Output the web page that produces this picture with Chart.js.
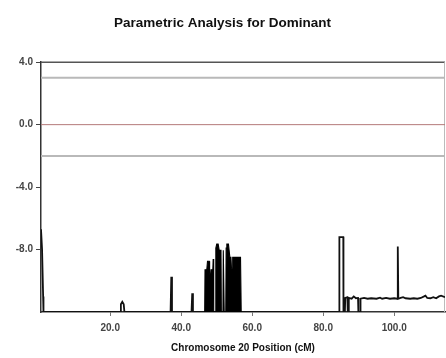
<!DOCTYPE html>
<html>
<head>
<meta charset="utf-8">
<script src="https://cdn.jsdelivr.net/npm/chart.js@4"></script>
<style>
  html, body { margin: 0; padding: 0; background: #fff; }
  #wrap { width: 446px; height: 358px; }
</style>
</head>
<body>
<div id="wrap"><canvas id="lod-chart"></canvas></div>
<script>
const chartTitle = 'Parametric Analysis for Dominant';
const xAxisTitle = 'Chromosome 20 Position (cM)';
const xTickValues = [20, 40, 60, 80, 100];
const yTickValues = [-8, -4, 0, 4];
const xRange = [0.5, 114.3];
const yRange = [-12, 4];
const upperLine = 3;
const lowerLine = -2;
const zeroLine = 0;

// main LOD trace
const posX = [
  0.5, 0.8, 1.1, 1.2,
  22.8, 23.0, 23.4, 23.8, 24.0,
  37.0, 37.2, 37.4,
  42.9, 43.1, 43.3,
  46.6, 57.0,
  84.5, 84.55, 85.65, 85.7,
  86.1, 86.2, 86.8, 86.9, 87.1, 87.2, 88.0, 88.6, 89.2, 89.8, 89.9, 90.4, 90.5,
  91.5, 92.5, 93.5, 95.0, 96.0, 96.6, 97.7, 98.8, 100.0, 100.85, 101.0, 101.15, 101.8, 102.5,
  103.2, 104.5, 105.5, 106.5, 107.5, 108.4, 108.8, 109.3, 110.2, 111.0, 111.8, 112.6, 113.2, 114.3
];
const lodY = [
  -6.7, -8.0, -11.0, -12,
  -12, -11.5, -11.35, -11.5, -12,
  -12, -9.75, -12,
  -12, -10.8, -12,
  -12, -12,
  -12, -7.2, -7.2, -12,
  -12, -11.1, -11.05, -12, -12, -11.1, -11.15, -11.0, -11.12, -11.1, -12, -12, -11.15,
  -11.1, -11.15, -11.12, -11.15, -11.08, -11.15, -11.1, -11.15, -11.12, -11.15, -7.8, -11.15, -11.1, -11.05,
  -11.12, -11.15, -11.12, -11.15, -11.1, -11.0, -10.95, -11.1, -11.12, -11.05, -11.12, -11.0, -10.95, -11.05
];

// dense block around 47-57 cM (drawn solid)
const clusterX = [
  46.6, 46.7, 47.2, 47.4, 47.9, 48.0, 48.3, 48.4, 48.9, 49.0, 49.15, 49.6, 49.75, 50.0, 50.4,
  50.7, 51.2, 51.3, 51.75, 51.85, 52.0, 52.1, 52.55, 52.65, 52.85, 53.3, 53.7, 54.0, 54.15, 54.35,
  54.5, 56.7, 56.9
];
const clusterY = [
  -12, -9.3, -9.3, -8.75, -8.75, -9.6, -9.6, -9.3, -9.3, -8.6, -12, -12, -7.9, -7.65, -7.65,
  -8.05, -8.05, -12, -12, -8.05, -8.05, -12, -12, -7.9, -7.65, -7.65, -8.5, -8.5, -9.2, -9.2,
  -8.5, -8.5, -12
];

const toPoints = (xs, ys) => xs.map((x, i) => ({ x: x, y: ys[i] }));
const flat = v => [{ x: xRange[0], y: v }, { x: xRange[1], y: v }];

const frame = {
  id: 'frame',
  beforeDatasetsDraw(chart) {
    const { ctx, chartArea: a } = chart;
    ctx.save();
    ctx.strokeStyle = '#555';
    ctx.lineWidth = 1.5;
    ctx.beginPath();
    ctx.moveTo(a.left, a.top);
    ctx.lineTo(a.right, a.top);
    ctx.stroke();
    ctx.strokeStyle = '#bbb';
    ctx.lineWidth = 1;
    ctx.beginPath();
    ctx.moveTo(a.right - 0.5, a.top);
    ctx.lineTo(a.right - 0.5, a.bottom);
    ctx.stroke();
    ctx.restore();
  }
};

const tickFont = { family: 'Liberation Sans, Arial', size: 10, weight: 'bold' };

new Chart(document.getElementById('lod-chart'), {
  type: 'line',
  data: {
    datasets: [
      { data: flat(upperLine), borderColor: '#b9b9b9', borderWidth: 2, pointRadius: 0 },
      { data: flat(lowerLine), borderColor: '#b9b9b9', borderWidth: 2, pointRadius: 0 },
      { data: flat(zeroLine), borderColor: '#b47a7a', borderWidth: 1, pointRadius: 0 },
      {
        data: toPoints(clusterX, clusterY),
        borderColor: '#000', backgroundColor: '#000', borderWidth: 1.1,
        pointRadius: 0, fill: 'start'
      },
      {
        data: toPoints(posX, lodY),
        borderColor: '#111', borderWidth: 1.8, pointRadius: 0, fill: false
      }
    ]
  },
  options: {
    animation: false,
    responsive: true,
    maintainAspectRatio: false,
    layout: { padding: { left: 0, right: 1, top: 0, bottom: 0 } },
    scales: {
      x: {
        type: 'linear',
        min: xRange[0],
        max: xRange[1],
        afterBuildTicks: s => { s.ticks = xTickValues.map(v => ({ value: v })); },
        afterFit: s => { s.height = 46; },
        grid: { display: true, drawOnChartArea: false, tickLength: 4, color: '#777' },
        border: { color: '#333', width: 1.5 },
        ticks: {
          color: '#444', font: tickFont, padding: 6, maxRotation: 0,
          callback: v => v.toFixed(1)
        },
        title: {
          display: true, text: xAxisTitle, color: '#111',
          font: { family: 'Liberation Sans, Arial', size: 10, weight: 'bold' },
          padding: { top: 0, bottom: 4 }
        }
      },
      y: {
        min: yRange[0],
        max: yRange[1],
        afterBuildTicks: s => { s.ticks = yTickValues.map(v => ({ value: v })); },
        afterFit: s => { s.width = 41; },
        grid: { display: true, drawOnChartArea: false, tickLength: 5, color: '#444' },
        border: { color: '#333', width: 1.5 },
        ticks: {
          color: '#444', font: tickFont, padding: 3,
          callback: v => v.toFixed(1)
        }
      }
    },
    plugins: {
      legend: { display: false },
      tooltip: { enabled: false },
      title: {
        display: true,
        text: chartTitle,
        color: '#111',
        font: { family: 'Liberation Sans, Arial', size: 13.5, weight: 'bold' },
        padding: { top: 15, bottom: 31 }
      }
    }
  },
  plugins: [frame]
});
</script>
</body>
</html>
